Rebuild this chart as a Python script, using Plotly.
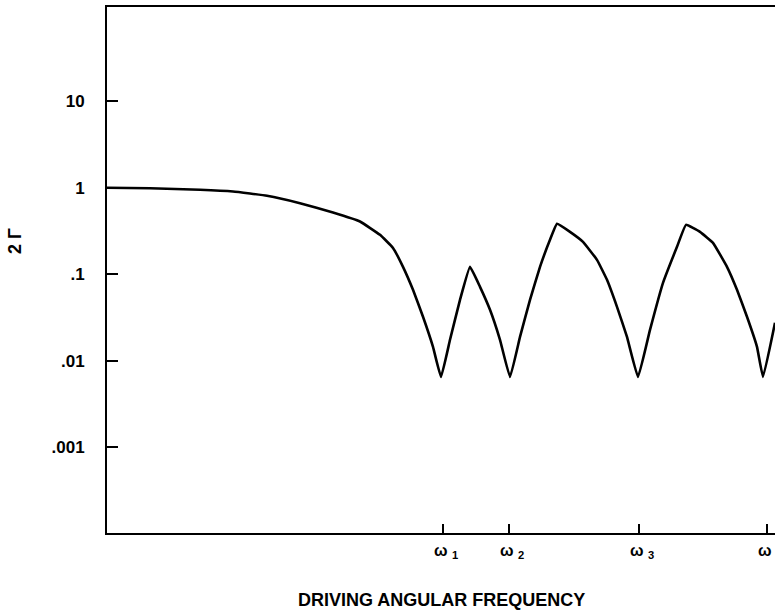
import plotly.graph_objects as go

# Driving angular frequency (arbitrary units) and 2Γ values
freq = [0.00, 0.43, 0.93, 1.26, 1.60, 1.93, 2.26, 2.53, 2.73, 2.86, 2.96, 3.06,
        3.16, 3.26, 3.34, 3.43, 3.53, 3.63, 3.73, 3.83, 3.93, 4.03, 4.13, 4.23,
        4.33, 4.43, 4.50, 4.63, 4.76, 4.90, 5.00, 5.10, 5.20, 5.31, 5.43, 5.56,
        5.70, 5.79, 5.93, 6.06, 6.20, 6.30, 6.40, 6.50, 6.56, 6.68]
gamma2 = [1.00, 0.99, 0.95, 0.906, 0.81, 0.665, 0.518, 0.408, 0.286, 0.202, 0.122, 0.0662,
          0.0323, 0.0145, 0.0065, 0.0175, 0.0507, 0.122, 0.0717, 0.0389, 0.0175, 0.0065, 0.0189, 0.0507,
          0.122, 0.2505, 0.384, 0.31, 0.2375, 0.147, 0.0864, 0.0421, 0.0189, 0.0065, 0.0228, 0.0797,
          0.208, 0.373, 0.31, 0.231, 0.122, 0.0662, 0.0323, 0.0145, 0.0065, 0.0275]

x_tick_vals = [3.36, 4.02, 5.32, 6.60]
x_tick_text = ["ω <sub>1</sub>", "ω <sub>2</sub>", "ω <sub>3</sub>", "ω <sub>4</sub>"]
y_tick_vals = [10, 1, 0.1, 0.01, 0.001]
y_tick_text = ["10", "1", ".1", ".01", ".001"]

FONT = "Liberation Sans"

fig = go.Figure()
fig.add_trace(go.Scatter(x=freq, y=gamma2, mode="lines",
                         line=dict(color="black", width=2.6, shape="spline", smoothing=0.3),
                         showlegend=False))

annotations = [
    dict(text="<b>2 Γ</b>", xref="paper", yref="paper", x=-0.1377, y=0.555,
         showarrow=False, textangle=-90, font=dict(family=FONT, size=18, color="black"),
         xanchor="center", yanchor="middle"),
    dict(text="<b>DRIVING ANGULAR FREQUENCY</b>", xref="paper", yref="paper",
         x=0.5, y=-0.127, showarrow=False,
         font=dict(family=FONT, size=18, color="black"),
         xanchor="center", yanchor="middle"),
]
for xv, xt in zip(x_tick_vals, x_tick_text):
    annotations.append(dict(text="<b>" + xt + "</b>", xref="x", yref="paper",
                            x=xv, y=-0.036, showarrow=False,
                            font=dict(family=FONT, size=16, color="black"),
                            xanchor="left", xshift=-11, yanchor="middle"))

fig.update_layout(
    width=775, height=614,
    margin=dict(l=107, r=0, t=7, b=81),
    paper_bgcolor="white", plot_bgcolor="white",
    font=dict(family=FONT, color="black"),
    xaxis=dict(range=[0, 6.68], showgrid=False, zeroline=False,
               showline=True, linecolor="black", linewidth=2, mirror=True,
               ticks="inside", ticklen=9, tickwidth=2, tickcolor="black",
               tickvals=x_tick_vals, showticklabels=False),
    yaxis=dict(type="log", range=[-3.99, 2.09], showgrid=False, zeroline=False,
               showline=True, linecolor="black", linewidth=2,
               ticks="inside", ticklen=11, tickwidth=2, tickcolor="black",
               tickvals=y_tick_vals, ticktext=y_tick_text,
               tickfont=dict(family=FONT, size=17, color="black", weight="bold"),
               ticklabelstandoff=17),
    annotations=annotations,
)

fig.write_html("out.html")
